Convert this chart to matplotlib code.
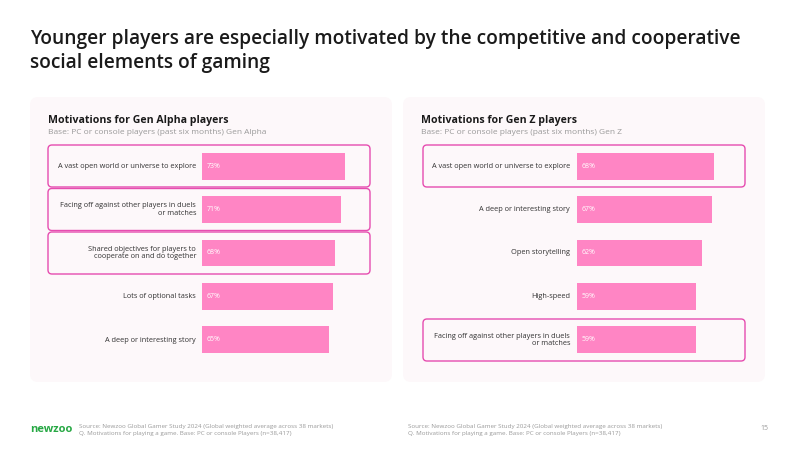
import matplotlib.pyplot as plt
from matplotlib.patches import FancyBboxPatch

plt.rcParams['font.family'] = ['Open Sans', 'DejaVu Sans']

# data
alpha_labels = ["A vast open world or universe to explore",
                "Facing off against other players in duels\nor matches",
                "Shared objectives for players to\ncooperate on and do together",
                "Lots of optional tasks",
                "A deep or interesting story"]
alpha_values = [73, 71, 68, 67, 65]
alpha_highlight = [True, True, True, False, False]

genz_labels = ["A vast open world or universe to explore",
               "A deep or interesting story",
               "Open storytelling",
               "High-speed",
               "Facing off against other players in duels\nor matches"]
genz_values = [68, 67, 62, 59, 59]
genz_highlight = [True, False, False, False, True]

BAR = '#ff85c4'
EDGE = '#e64db0'
PANEL = '#fdf8fa'
W, H = 800, 450

fig = plt.figure(figsize=(8, 4.5), dpi=100)
fig.patch.set_facecolor('white')

# background axes in pixel coords (y down)
bg = fig.add_axes([0, 0, 1, 1])
bg.set_xlim(0, W)
bg.set_ylim(H, 0)
bg.axis('off')

bg.text(30, 51, "Younger players are especially motivated by the competitive and cooperative\nsocial elements of gaming",
        fontsize=13.8, fontweight='semibold', color='#1a1a1a', va='center', ha='left', linespacing=1.3)


def panel(x0, title, sub, labels, values, hl, bar_x, label_x, box_x0, box_x1, xmax):
    bg.add_patch(FancyBboxPatch((x0, 97), 362, 285, boxstyle="round,pad=0,rounding_size=8",
                                facecolor=PANEL, edgecolor='none', zorder=0))
    bg.text(x0 + 18, 120, title, fontsize=7.6, fontweight='bold', color='#1a1a1a', va='center')
    bg.text(x0 + 18, 132, sub, fontsize=6, color='#9a9a9a', va='center')

    centers = [166 + i * 43.5 for i in range(len(values))]
    for c, lab, h in zip(centers, labels, hl):
        if h:
            bg.add_patch(FancyBboxPatch((box_x0, c - 21), box_x1 - box_x0, 42,
                                        boxstyle="round,pad=0,rounding_size=4",
                                        facecolor='none', edgecolor=EDGE, lw=1.0, zorder=2))
        bg.text(label_x, c, lab, fontsize=5.3, color='#333333', ha='right', va='center',
                multialignment='right', linespacing=1.15)

    # bar axes
    ax_w = 168
    top, bottom = 144.5, 361.5
    ax = fig.add_axes([bar_x / W, 1 - bottom / H, ax_w / W, (bottom - top) / H])
    ax.set_facecolor('none')
    ys = list(range(len(values)))
    ax.barh(ys, values, height=0.62, color=BAR, edgecolor='none')
    for y, v in zip(ys, values):
        ax.text(2.5, y, f"{v}%", color='white', fontsize=5, va='center', ha='left')
    ax.set_ylim(len(values) - 0.5, -0.5)
    ax.set_xlim(0, xmax)
    ax.axis('off')


panel(30, "Motivations for Gen Alpha players",
      "Base: PC or console players (past six months) Gen Alpha",
      alpha_labels, alpha_values, alpha_highlight,
      202, 196, 48, 370, 168 / 1.96)
panel(403, "Motivations for Gen Z players",
      "Base: PC or console players (past six months) Gen Z",
      genz_labels, genz_values, genz_highlight,
      577, 570, 423, 745, 168 / 2.01)

# footer
bg.text(30, 430, "newzoo", fontsize=8, fontweight='bold', color='#27a844', va='center')
src = ("Source: Newzoo Global Gamer Study 2024 (Global weighted average across 38 markets)\n"
       "Q. Motivations for playing a game. Base: PC or console Players (n=38,417)")
bg.text(79, 430, src, fontsize=4.5, color='#9a9a9a', va='center', linespacing=1.35)
bg.text(408, 430, src, fontsize=4.5, color='#9a9a9a', va='center', linespacing=1.35)
bg.text(768, 428, "15", fontsize=5, color='#9a9a9a', va='center', ha='right')

fig.savefig('out.png', dpi=100)
plt.close()
